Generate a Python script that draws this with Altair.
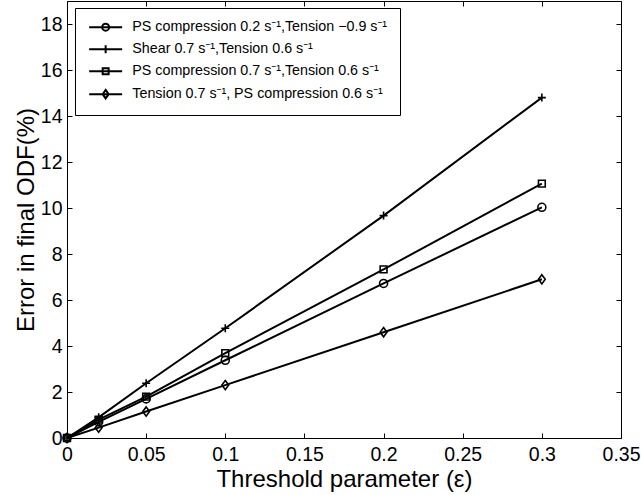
import altair as alt
import pandas as pd

# ---- data ----
thresholds = [0, 0.02, 0.05, 0.1, 0.2, 0.3]
series_labels = [
    "PS compression 0.2 s\u207b\u00b9,Tension \u22120.9 s\u207b\u00b9",
    "Shear 0.7 s\u207b\u00b9,Tension 0.6 s\u207b\u00b9",
    "PS compression 0.7 s\u207b\u00b9,Tension 0.6 s\u207b\u00b9",
    "Tension 0.7 s\u207b\u00b9, PS compression 0.6 s\u207b\u00b9",
]
ps02_tension = [0, 0.70, 1.70, 3.38, 6.72, 10.03]
shear_tension = [0, 0.90, 2.38, 4.77, 9.67, 14.80]
ps07_tension = [0, 0.80, 1.80, 3.69, 7.33, 11.06]
tension_ps = [0, 0.45, 1.15, 2.30, 4.60, 6.90]
x_ticks = [0, 0.05, 0.1, 0.15, 0.2, 0.25, 0.3, 0.35]
y_ticks = [0, 2, 4, 6, 8, 10, 12, 14, 16, 18]

all_series = [ps02_tension, shear_tension, ps07_tension, tension_ps]
rows = []
for lab, vals in zip(series_labels, all_series):
    for i, (x, y) in enumerate(zip(thresholds, vals)):
        rows.append({"x": x, "y": y, "series": lab, "idx": i})
df = pd.DataFrame(rows)

# ---- styling ----
W, H = 554, 437
FONT = "Liberation Sans"
LEGEND_FONT = "Liberation Sans, Noto Sans"

# plot markers (custom paths, unit coords)
marker_paths = [
    "M-1,0A1,1 0 1,0 1,0A1,1 0 1,0 -1,0Z",
    "M-1,0H1M0,-1V1",
    "M-0.85,-0.85H0.85V0.85H-0.85Z",
    "M0,-1.15L0.85,0L0,1.15L-0.85,0Z",
]
# legend symbols: line segment + marker
legend_paths = [
    "M-1,0H5.6M1.6,0A0.7,0.7 0 1,0 3.0,0A0.7,0.7 0 1,0 1.6,0Z",
    "M-1,0H5.6M2.3,-0.8V0.8",
    "M-1,0H5.6M1.7,-0.6H2.9V0.6H1.7Z",
    "M-1,0H5.6M2.3,-0.85L2.9,0L2.3,0.85L1.7,0Z",
]

xs = alt.Scale(domain=[0, 0.35], nice=False, zero=False)
ys = alt.Scale(domain=[0, 19], nice=False, zero=False)

common_axis = dict(grid=False, domain=False, tickColor="black", tickWidth=1,
                   labelColor="black", titleColor="black", labelFlush=False)

base = alt.Chart(df)

lines = base.mark_line(color="black", strokeWidth=2).encode(
    x=alt.X("x:Q", scale=xs, axis=alt.Axis(
        orient="bottom", values=x_ticks, format="~g", ticks=False,
        labelFont=FONT, labelFontSize=19.5, labelPadding=7,
        title="Threshold parameter (\u03b5)", titleFont=FONT, titleFontSize=24,
        titleFontWeight="normal", titlePadding=4, **common_axis)),
    y=alt.Y("y:Q", scale=ys, axis=alt.Axis(
        orient="left", values=y_ticks, ticks=False,
        labelFont=FONT, labelFontSize=19.5, labelPadding=5,
        title="Error in final ODF(%)", titleFont=FONT, titleFontSize=24,
        titleFontWeight="normal", titlePadding=2, **common_axis)),
    detail="series:N",
    order="idx:Q",
)

points = base.mark_point(filled=False, stroke="black", strokeWidth=1.6, size=64, opacity=1).encode(
    x=alt.X("x:Q", scale=xs, axis=alt.Axis(
        orient="top", offset=-H, values=x_ticks, labels=False, ticks=True,
        tickSize=5, title=None, **common_axis)),
    y=alt.Y("y:Q", scale=ys, axis=alt.Axis(
        orient="right", offset=-W, values=y_ticks, labels=False, ticks=True,
        tickSize=5, title=None, **common_axis)),
    shape=alt.Shape("series:N", scale=alt.Scale(domain=series_labels, range=marker_paths),
                    legend=None),
)

legend_layer = base.mark_point(filled=False, stroke="black", opacity=0, size=100).encode(
    x=alt.X("x:Q", scale=xs, axis=alt.Axis(
        orient="bottom", offset=-H, values=x_ticks, labels=False, ticks=True,
        tickSize=5, title=None, **common_axis)),
    y=alt.Y("y:Q", scale=ys, axis=alt.Axis(
        orient="left", offset=-W, values=y_ticks, labels=False, ticks=True,
        tickSize=5, title=None, **common_axis)),
    shape=alt.Shape("series:N", scale=alt.Scale(domain=series_labels, range=legend_paths),
                    legend=alt.Legend(
                        orient="none", legendX=8, legendY=7, title=None,
                        symbolSize=100, symbolStrokeWidth=2, symbolStrokeColor="black",
                        symbolFillColor="transparent", symbolOpacity=1,
                        labelFont=LEGEND_FONT, labelFontSize=14.3, labelColor="black",
                        labelOffset=31, labelLimit=500, rowPadding=6, padding=12,
                        strokeColor="black", fillColor="white")),
)

chart = alt.layer(lines, points, legend_layer).resolve_axis(
    x="independent", y="independent"
).resolve_scale(shape="independent").properties(
    width=W, height=H,
    autosize=alt.AutoSizeParams(type="none"),
    padding={"left": 67, "top": 1, "right": 20, "bottom": 57},
    background="white",
).configure_view(stroke="black", strokeWidth=1)

chart.save("out.html", embed_options={"renderer": "svg", "actions": False})
